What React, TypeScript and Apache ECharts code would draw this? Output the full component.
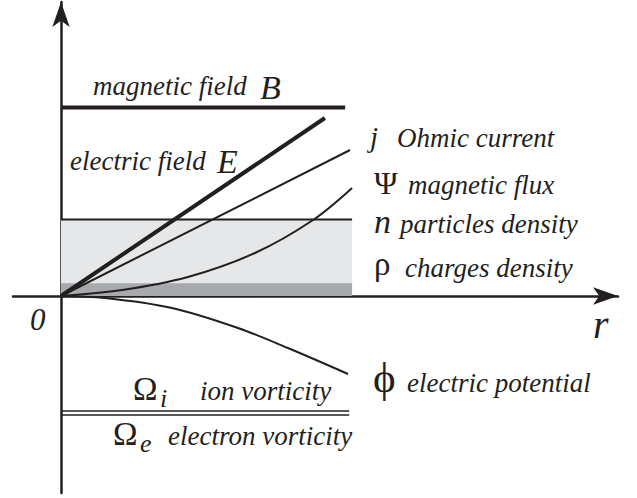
import React, { useEffect, useRef } from "react";
import * as echarts from "echarts";

// ---- data (r in units of the plasma radius, quantities in arbitrary units) ----
const magneticFieldB = [[0, 1.885], [0.983, 1.885]];
const electricFieldE = [[0, 0], [0.913, 1.78]];
const ohmicCurrentJ = [[0, 0], [1.0, 1.46]];
const magneticFluxPsi = [[0, 0], [0.211, 0.06], [0.439, 0.19], [0.671, 0.43], [0.872, 0.76], [1.007, 1.08]];
const particlesDensityN = [[0, 0.765], [1.007, 0.765]];
const chargesDensityRho = [[0, 0.127], [1.007, 0.127]];
const electricPotentialPhi = [[0, 0], [0.152, -0.02], [0.384, -0.12], [0.612, -0.32], [0.785, -0.52], [0.993, -0.78]];
const ionVorticity = [[0, -1.15], [0.997, -1.15]];
const electronVorticity = [[0, -1.19], [0.997, -1.19]];

const INK = "#231f20";
const FONT = "Liberation Serif";

function txt(x: number, baseline: number, text: string, size: number, italic = true) {
  return {
    type: "text",
    x,
    y: baseline - 0.3375 * size,
    z: 100,
    style: {
      text,
      fontSize: size,
      fontFamily: FONT,
      fontStyle: italic ? "italic" : "normal",
      fill: INK,
      align: "left",
      verticalAlign: "middle",
    },
  };
}

function lineSeries(name: string, data: number[][], width: number, extra: any = {}) {
  return {
    name,
    type: "line",
    data,
    symbol: "none",
    showSymbol: false,
    lineStyle: { color: INK, width, cap: "butt" },
    z: 5,
    ...extra,
  };
}

export default function App() {
  const ref = useRef<HTMLDivElement>(null);
  useEffect(() => {
    if (!ref.current) return;
    const chart = echarts.init(ref.current, undefined, { renderer: "svg" });
    const axisCommon = {
      type: "value",
      axisTick: { show: false },
      axisLabel: { show: false },
      splitLine: { show: false },
      axisLine: {
        show: true,
        onZero: true,
        symbol: ["none", "arrow"],
        symbolSize: [13, 25],
        lineStyle: { color: INK, width: 2.5 },
      },
    };
    chart.setOption({
      animation: false,
      backgroundColor: "#ffffff",
      grid: { left: 13, right: 19, top: 2, bottom: 5, containLabel: false },
      xAxis: { ...axisCommon, min: -0.1661, max: 1.927 },
      yAxis: { ...axisCommon, min: -1.97, max: 2.94 },
      series: [
        lineSeries("n particles density", particlesDensityN, 2, {
          areaStyle: { color: "#e6e7e8", opacity: 1 },
          z: 1,
        }),
        lineSeries("ρ charges density", chargesDensityRho, 0, {
          areaStyle: { color: "#a7a9ac", opacity: 1 },
          lineStyle: { width: 0, opacity: 0 },
          z: 2,
        }),
        lineSeries("magnetic field B", magneticFieldB, 4),
        lineSeries("electric field E", electricFieldE, 4),
        lineSeries("j Ohmic current", ohmicCurrentJ, 2),
        lineSeries("Ψ magnetic flux", magneticFluxPsi, 2, { smooth: 0.35 }),
        lineSeries("φ electric potential", electricPotentialPhi, 2, { smooth: 0.35 }),
        lineSeries("Ωi ion vorticity", ionVorticity, 1.4),
        lineSeries("Ωe electron vorticity", electronVorticity, 1.4),
      ],
      graphic: [
        txt(93, 95, "magnetic field", 27),
        txt(260, 99, "B", 34),
        txt(70, 170, "electric field", 27),
        txt(217, 173, "E", 34),
        txt(370, 147, "j", 29),
        txt(397, 147, "Ohmic current", 27),
        txt(374, 194, "Ψ", 32, false),
        txt(408, 194, "magnetic flux", 27),
        txt(374, 233, "n", 34),
        txt(400, 233, "particles density", 27),
        txt(374, 275, "ρ", 33, false),
        txt(405, 277, "charges density", 27),
        txt(30, 330, "0", 31),
        txt(593, 338, "r", 40),
        txt(373, 392, "ϕ", 43, false),
        txt(407, 392, "electric potential", 27),
        txt(133, 400, "Ω", 33, false),
        txt(160, 407, "i", 26),
        txt(200, 400, "ion vorticity", 27),
        txt(113, 445, "Ω", 33, false),
        txt(140, 452, "e", 26),
        txt(168, 445, "electron vorticity", 27),
      ],
    });
    return () => chart.dispose();
  }, []);
  return (
    <div
      ref={ref}
      style={{ position: "absolute", left: 0, top: 0, width: 637, height: 498, background: "#fff" }}
    />
  );
}
